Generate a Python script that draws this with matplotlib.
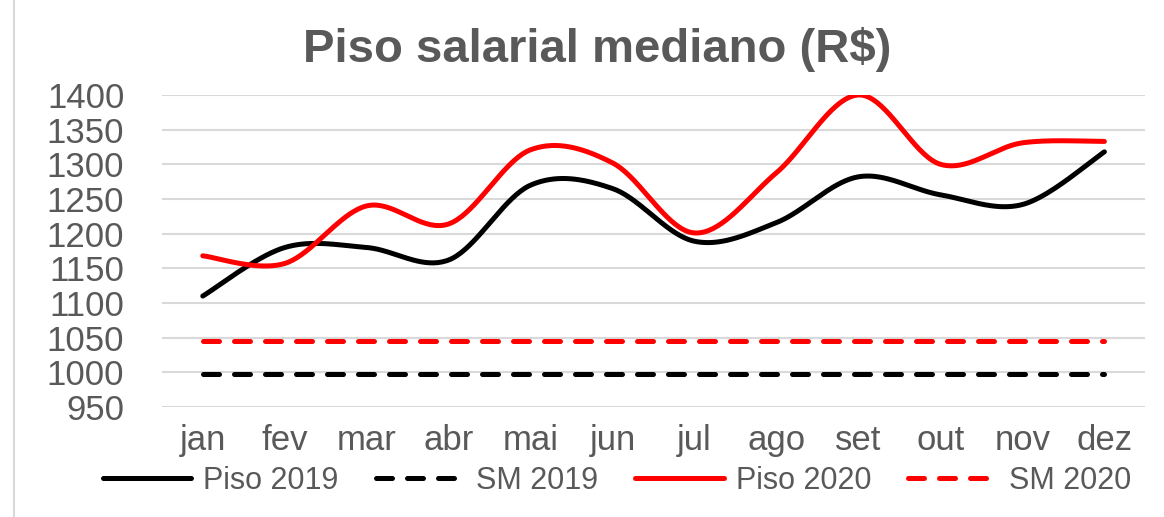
import numpy as np
import matplotlib
matplotlib.use('Agg')
import matplotlib.pyplot as plt
from matplotlib.lines import Line2D

plt.rcParams['font.family'] = ['Liberation Sans', 'DejaVu Sans']

# dados
meses = ['jan', 'fev', 'mar', 'abr', 'mai', 'jun', 'jul', 'ago', 'set', 'out', 'nov', 'dez']
piso_2019 = [1110, 1180, 1180, 1162, 1270, 1265, 1189, 1216, 1282, 1256, 1242, 1318]
piso_2020 = [1168, 1157, 1240, 1214, 1321, 1302, 1201, 1288, 1400, 1300, 1331, 1333]
sm_2019 = [998] * 12
sm_2020 = [1045] * 12

cinza = '#595959'


def suaviza(x, y, n=40):
    # curva suave estilo Excel (Bezier / Catmull-Rom) passando pelos pontos
    p = np.column_stack([x, y]).astype(float)
    p = np.vstack([p[0], p, p[-1]])
    t = np.linspace(0, 1, n)[:, None]
    segs = []
    for i in range(1, len(p) - 2):
        p0, p1, p2, p3 = p[i - 1], p[i], p[i + 1], p[i + 2]
        c1 = p1 + (p2 - p0) / 6
        c2 = p2 - (p3 - p1) / 6
        segs.append((1 - t) ** 3 * p1 + 3 * (1 - t) ** 2 * t * c1
                    + 3 * (1 - t) * t ** 2 * c2 + t ** 3 * p2)
    s = np.vstack(segs)
    return s[:, 0], s[:, 1]


fig = plt.figure(figsize=(11.64, 5.17), dpi=100)
ax = fig.add_axes([0.139, 0.2128, 0.845, 0.6035])

x = np.arange(len(meses))
lw = 3.6
tracos = (3.2, 3.0)

xs, ys = suaviza(x, piso_2019)
ax.plot(xs, ys, color='black', lw=lw, solid_capstyle='round', label='Piso 2019')
ax.plot(x, sm_2019, color='black', lw=lw, dashes=tracos, dash_capstyle='round', label='SM 2019')
xs, ys = suaviza(x, piso_2020)
ax.plot(xs, ys, color='#ff0000', lw=lw, solid_capstyle='round', label='Piso 2020')
ax.plot(x, sm_2020, color='#ff0000', lw=lw, dashes=tracos, dash_capstyle='round', label='SM 2020')

ax.set_xlim(-0.5, 11.5)
ax.set_ylim(950, 1400)
ax.set_yticks(np.arange(950, 1401, 50))
ax.set_xticks(x)
ax.set_xticklabels(meses)
ax.yaxis.grid(True, color='#d9d9d9', lw=1.5)
ax.set_axisbelow(True)
for s in ax.spines.values():
    s.set_visible(False)
ax.tick_params(axis='both', length=0, colors=cinza)
ax.tick_params(axis='y', labelsize=25, pad=27)
ax.tick_params(axis='x', labelsize=25, pad=12)

fig.text(0.513, 0.905, 'Piso salarial mediano (R$)', ha='center', va='center',
         fontsize=34, fontweight='bold', color=cinza)

leg = fig.legend(loc='center', bbox_to_anchor=(0.530, 0.07), ncol=4, frameon=False,
                 fontsize=22, handlelength=2.9, handletextpad=0.4, columnspacing=1.2,
                 labelcolor=cinza)

# borda esquerda da área do gráfico
fig.add_artist(Line2D([0.012, 0.012], [0, 1], color='#d9d9d9', lw=1.5))

plt.savefig('out.png', dpi=100)
